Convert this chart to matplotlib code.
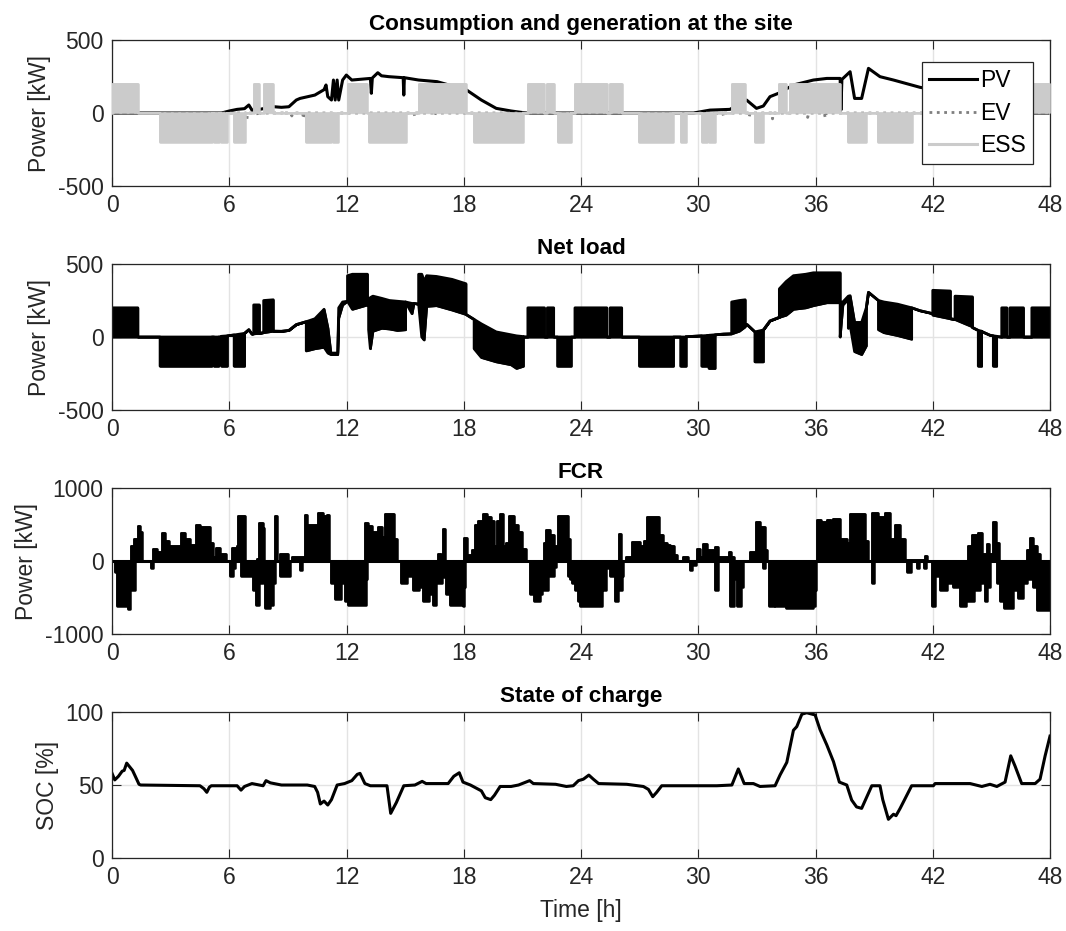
import matplotlib

matplotlib.use("Agg")
import matplotlib.pyplot as plt
from matplotlib.lines import Line2D
import numpy as np

plt.rcParams["font.family"] = ["Liberation Sans", "DejaVu Sans"]
plt.rcParams["axes.unicode_minus"] = False

# ── data (time in hours) ────────────────────────────────────────────
pv_t = [0, 5.6, 6.0, 6.4, 6.78, 7.0, 7.16, 7.54, 8.3, 8.67, 9.05, 9.43, 9.62,
        10.38, 10.85, 10.95, 11.04, 11.23, 11.33, 11.42, 11.52, 11.6, 11.8,
        11.99, 12.27, 13.22, 13.27, 13.32, 13.6, 13.79, 14.17, 14.9, 14.93,
        14.96, 15.69, 16.63, 18.14, 18.9, 19.66, 20.42, 20.8, 21.2, 29.75,
        30.6, 31.62, 32.47, 32.98, 33.33, 33.67, 34.1, 34.87, 35.89, 36.58,
        37.26, 37.3, 37.35, 37.77, 38.0, 38.36, 38.71, 39.3, 39.99, 41.35,
        42.5, 43.5, 44.0, 44.5, 45.0, 45.5, 48.0]
pv_kw = [0, 0, 14, 25, 30, 55, 20, 25, 43, 39, 43, 89, 100,
         123, 160, 192, 112, 89, 226, 89, 226, 89, 226,
         260, 226, 237, 135, 240, 276, 255, 249, 242, 123,
         242, 226, 215, 158, 89, 32, 14, 7, 0, 0,
         20, 25, 89, 32, 48, 112, 135, 192, 226, 237,
         237, 20, 230, 283, 100, 100, 306, 249, 226, 176,
         150, 120, 65, 40, 10, 0, 0]

ev_t = [0, 6.85, 6.9, 6.95, 7.45, 7.5, 7.55, 8.75, 8.8, 8.85, 9.15, 9.2, 9.25,
        9.75, 9.8, 9.85, 11.45, 11.5, 11.55, 15.45, 15.5, 15.55, 16.45, 16.5,
        16.55, 30.85, 30.9, 30.95, 31.25, 31.3, 31.35, 32.55, 32.6, 32.65,
        33.75, 33.8, 33.85, 35.55, 35.6, 35.65, 36.45, 36.5, 36.55, 48]
ev_kw = [0, 0, -40, 0, 0, -25, 0, 0, -15, 0, 0, -20, 0,
         0, -40, 0, 0, -20, 0, 0, -25, 0, 0, -20,
         0, 0, -25, 0, 0, -25, 0, 0, -30, 0,
         0, -40, 0, 0, -30, 0, 0, -35, 0, 0]

# ESS operates in on/off blocks at +/-200 kW
ess_start = [0.0, 2.46, 5.22, 5.6, 6.25, 7.25, 7.76, 9.94, 11.33, 12.05, 13.13,
             15.69, 18.53, 21.28, 22.28, 22.8, 23.69, 25.49, 26.99, 29.1, 30.18,
             30.55, 31.71, 32.9, 34.15, 34.7, 37.68, 39.22, 42.0, 43.14, 44.33,
             45.1, 45.53, 45.95, 47.07]
ess_end = [1.32, 5.11, 5.46, 5.9, 6.78, 7.54, 8.25, 11.23, 11.55, 13.07, 15.02,
           18.11, 21.05, 22.13, 22.6, 23.5, 25.32, 26.08, 28.73, 29.38, 30.45,
           30.86, 32.4, 33.33, 34.5, 37.26, 38.6, 40.92, 42.9, 44.03, 44.5,
           45.27, 45.79, 46.64, 48.0]
ess_kw = [200, -200, -200, -200, -200, 200, 200, -200, -200, 200, -200,
          200, -200, 200, 200, -200, 200, 200, -200, -200, -200,
          -200, 200, -200, 200, 200, -200, -200, 200, 200, -200,
          -200, 200, 200, 200]

# net load: envelope of the fast switching signal (lower, upper)
net_t = [0.0, 1.32, 1.32, 2.46, 2.46, 5.11, 5.11, 5.22, 5.22, 5.46, 5.46,
         5.6, 5.6, 5.9, 5.9, 6.25, 6.25, 6.78, 6.78, 7.0, 7.16, 7.25, 7.25,
         7.54, 7.54, 7.76, 7.76, 8.25, 8.25, 8.67, 9.05, 9.43, 9.94, 9.94,
         10.38, 10.85, 11.05, 11.2, 11.55, 11.6, 11.8, 12.05, 12.05, 12.3,
         13.07, 13.07, 13.13, 13.13, 13.22, 13.35, 13.8, 14.2, 14.6, 15.02,
         15.02, 15.35, 15.45, 15.69, 15.69, 15.85, 15.97, 16.1, 16.6, 17.4,
         18.11, 18.11, 18.53, 18.53, 18.9, 19.66, 20.42, 20.7, 21.05, 21.05,
         21.28, 21.28, 22.13, 22.13, 22.28, 22.28, 22.6, 22.6, 22.8, 22.8,
         23.5, 23.5, 23.69, 23.69, 25.32, 25.32, 25.49, 25.49, 26.08, 26.08,
         26.99, 26.99, 28.73, 28.73, 29.1, 29.1, 29.38, 29.38, 30.18, 30.18,
         30.45, 30.45, 30.55, 30.55, 30.86, 30.86, 31.3, 31.71, 31.71, 32.1,
         32.4, 32.4, 32.5, 32.9, 32.9, 33.33, 33.33, 33.67, 34.15, 34.15,
         34.5, 34.87, 35.5, 35.89, 36.58, 37.26, 37.26, 37.4, 37.68, 37.68,
         37.77, 38.0, 38.36, 38.6, 38.6, 38.71, 39.22, 39.22, 39.5, 40.2,
         40.92, 40.92, 41.35, 42.0, 42.0, 42.9, 42.9, 43.14, 43.14, 44.03,
         44.03, 44.33, 44.33, 44.5, 44.5, 44.93, 45.1, 45.1, 45.27, 45.27,
         45.53, 45.53, 45.79, 45.79, 45.95, 45.95, 46.64, 46.64, 47.07, 47.07,
         48.0]
net_lo = [0, 0, 0, 0, -200, -200, 0, 0, -200, -200, 0,
          0, -200, -200, 8, 14, -200, -200, 25, 50, 20, 22, 22,
          25, 25, 30, 30, 40, 40, 39, 45, 85, 105, -95,
          -80, -70, -110, -120, -120, 130, 220, 245, 245, 190,
          220, 240, 250, 50, -80, 40, 60, 55, 45, 50,
          240, 160, 230, 225, 225, 0, -20, 210, 215, 185,
          155, 155, 120, -80, -140, -170, -190, -215, -200, 0,
          0, 0, 0, 0, 0, 0, 0, 0, 0, -200,
          -200, 0, 0, 0, 0, 0, 0, 0, 0, 0,
          0, -200, -200, 0, 0, -200, -200, 2, 8, -200,
          -200, 10, 10, -215, -215, 15, 20, 22, 22, 40,
          70, 80, 85, 35, -170, -170, 48, 110, 135, 135,
          150, 190, 200, 215, 235, 235, 0, 220, 260, 60,
          83, -100, -120, -60, 200, 306, 250, 50, 30, 10,
          -15, 200, 180, 160, 150, 125, 125, 120, 120, 70,
          65, 45, -200, -200, 38, 12, 8, -200, -200, 3,
          0, 0, 0, 0, 0, 0, 0, 0, 0, 0,
          0]
net_hi = [200, 200, 0, 0, 0, 0, 0, 0, 0, 0, 0,
          0, 5, 8, 8, 14, 14, 25, 25, 50, 20, 22, 220,
          220, 25, 30, 250, 255, 40, 39, 45, 85, 105, 105,
          125, 190, 60, -110, -110, 200, 240, 245, 420, 430,
          430, 240, 250, 250, 270, 280, 265, 250, 245, 240,
          240, 230, 230, 225, 430, 430, 380, 420, 415, 395,
          365, 155, 120, 120, 90, 35, 15, 8, 3, 0,
          0, 200, 200, 0, 0, 200, 200, 0, 0, 0,
          0, 0, 0, 200, 200, 0, 0, 200, 200, 0,
          0, 0, 0, 0, 0, 0, 0, 2, 8, 8,
          10, 10, 10, 12, 15, 15, 20, 22, 240, 250,
          255, 80, 85, 35, 35, 48, 48, 110, 135, 330,
          380, 420, 430, 440, 440, 440, 240, 240, 280, 280,
          283, 100, 100, 200, 200, 306, 250, 250, 240, 225,
          200, 200, 180, 160, 320, 315, 125, 120, 280, 275,
          65, 45, 45, 40, 38, 12, 8, 8, 5, 3,
          0, 200, 200, 0, 0, 200, 200, 0, 0, 200,
          200]

# FCR: upper (positive) and lower (negative) envelopes
fcr_up_t = [0.0, 0.9, 0.99, 1.1, 1.32, 1.45, 1.55, 2.0, 2.1, 2.3, 2.55, 2.7,
            2.9, 3.1, 3.3, 3.55, 3.75, 4.0, 4.31, 4.5, 4.9, 5.0, 5.15, 5.3,
            5.5, 5.7, 5.85, 6.1, 6.15, 6.4, 6.45, 6.7, 6.8, 7.4, 7.5, 7.7,
            7.8, 8.2, 8.35, 8.45, 8.6, 8.9, 9.0, 9.2, 9.6, 9.8, 9.85, 10.0,
            10.4, 10.55, 10.8, 11.0, 11.1, 12.9, 12.95, 13.1, 13.3, 13.5,
            13.6, 13.8, 13.95, 14.3, 14.45, 14.6, 16.6, 16.7, 16.85, 16.95,
            17.05, 18.0, 18.02, 18.15, 18.4, 18.55, 18.75, 19.0, 19.2, 19.4,
            19.55, 19.7, 19.86, 20.0, 20.15, 20.3, 20.55, 20.8, 21.0, 21.2,
            22.0, 22.1, 22.22, 22.4, 22.6, 22.8, 23.15, 23.35, 23.45, 25.9,
            25.95, 26.05, 26.3, 26.5, 26.6, 26.8, 27.0, 27.2, 27.36, 27.87,
            28.0, 28.2, 28.4, 28.55, 28.75, 28.9, 29.2, 29.4, 29.5, 29.85,
            29.92, 30.1, 30.26, 30.45, 30.7, 30.86, 31.0, 31.4, 31.55, 31.7,
            31.85, 32.5, 32.65, 32.96, 33.16, 33.4, 33.5, 36.0, 36.06, 36.3,
            36.57, 36.8, 36.9, 37.1, 37.26, 37.6, 37.77, 38.36, 38.55, 38.7,
            38.85, 38.9, 39.2, 39.56, 39.8, 40.07, 40.3, 40.6, 41.5, 41.6,
            41.7, 43.7, 43.8, 44.0, 44.3, 44.5, 44.75, 44.9, 45.1, 45.25,
            45.4, 46.7, 46.8, 47.0, 47.15, 47.35, 47.5, 48.0]
fcr_up = [0, 0, 210, 300, 480, 400, 0, 0, 165, 120, 380, 280,
          200, 210, 200, 380, 300, 220, 500, 460, 460, 250, 60, 180,
          90, 90, 0, 0, 180, 200, 620, 620, 0, 30, 520, 450,
          0, 0, 620, 0, 100, 100, 0, 50, 50, 0, 630, 500,
          500, 660, 620, 630, 0, 0, 520, 480, 400, 400,
          460, 330, 650, 650, 300, 0, 0, 100, 0, 440,
          0, 0, 320, 80, 150, 500, 550, 650, 600, 550,
          200, 550, 640, 200, 250, 620, 500, 400, 170, 0,
          0, 250, 420, 350, 200, 620, 620, 300, 0, 0,
          370, 0, 50, 50, 260, 260, 200, 280, 600, 600,
          350, 250, 220, 200, 80, 0, 60, 60, 0, 0,
          170, 50, 230, 150, 150, 190, 50, 60, 130, 50,
          0, 0, 130, 530, 460, 150, 0, 0, 560, 540,
          560, 300, 580, 580, 300, 250, 640, 640, 280, 0,
          0, 660, 600, 660, 300, 500, 300, 20, 20, 70,
          0, 0, 200, 350, 380, 100, 230, 100, 540, 250,
          0, 0, 150, 320, 200, 100, 0, 0]
fcr_dn_t = [0.0, 0.05, 0.14, 0.24, 0.7, 0.8, 0.9, 1.1, 1.15, 1.9, 2.0, 2.1,
            5.95, 6.05, 6.2, 6.3, 6.5, 6.6, 7.0, 7.2, 7.35, 7.5, 7.7, 7.85,
            8.1, 8.25, 8.35, 8.6, 9.0, 9.1, 9.5, 9.6, 9.7, 11.1, 11.2, 11.4,
            11.7, 11.9, 12.1, 12.9, 13.0, 13.05, 14.7, 14.8, 15.1, 15.4, 15.7,
            15.9, 16.2, 16.4, 16.6, 16.9, 17.1, 17.3, 17.95, 18.0, 18.05, 21.3,
            21.4, 21.6, 21.9, 22.0, 22.3, 22.6, 22.7, 23.3, 23.35, 23.44,
            23.53, 23.7, 23.87, 23.95, 24.97, 25.05, 25.14, 25.3, 25.4, 25.5,
            25.7, 25.74, 25.91, 26.08, 26.15, 29.5, 29.58, 29.7, 29.84, 29.9,
            30.8, 30.87, 30.95, 31.0, 31.6, 31.63, 31.8, 31.85, 31.97, 32.14,
            32.2, 32.3, 33.25, 33.33, 33.4, 33.6, 33.85, 33.9, 33.95, 34.5,
            35.2, 35.89, 35.98, 36.02, 38.85, 38.88, 38.96, 39.0, 40.6, 40.67,
            40.84, 40.9, 41.2, 41.3, 41.55, 41.65, 41.9, 41.95, 42.04, 42.1,
            42.38, 42.72, 43.06, 43.3, 43.4, 43.57, 43.7, 43.9, 44.1, 44.42,
            44.55, 44.68, 44.8, 44.95, 45.2, 45.28, 45.45, 45.62, 45.96, 46.13,
            46.38, 46.6, 46.8, 47.15, 47.32, 47.9, 48.0]
fcr_dn = [0, 0, -150, -620, -620, -660, -400, -400, 0, 0, -100, 0,
          0, -200, -100, 0, 0, -200, -200, -400, -600, -300, -200, -650,
          -600, -300, 0, -200, -200, 0, 0, -120, 0, 0, -300, -520,
          -300, -550, -600, -600, -250, 0, 0, -300, -200, -400, -350,
          -550, -450, -600, -300, -220, -450, -600, -620, -350, 0, 0,
          -450, -550, -450, -400, -200, -80, 0, 0, -200, -250,
          -300, -400, -550, -620, -620, -300, -400, -100, 0, -200,
          -200, -550, -400, -200, 0, 0, -120, -50, -50, 0,
          0, -400, -400, 0, 0, -620, -620, -250, -620, -620,
          -350, 0, 0, -100, 0, -620, -620, -300, -620, -640,
          -640, -620, -400, 0, 0, -300, -300, 0, 0, -150,
          -150, 0, -100, 0, -100, 0, 0, -620, -620, -200,
          -400, -300, -350, -200, -620, -620, -550, -550, -400, -300,
          -150, -550, -350, 0, 0, -300, -550, -640, -640, -400,
          -500, -300, -250, -350, -670, -670, -600]

soc_t = [0, 0.14, 0.33, 0.52, 0.62, 0.75, 0.9, 1.05, 1.19, 1.38, 1.47, 4.5,
         4.7, 4.85, 4.98, 5.08, 6.4, 6.6, 6.78, 7.16, 7.73, 7.88, 8.1, 8.67,
         9.99, 10.37, 10.52, 10.66, 10.85, 11.04, 11.23, 11.52, 11.9, 12.27,
         12.55, 12.69, 12.94, 13.22, 14.07, 14.26, 14.55, 14.93, 15.5, 15.87,
         16.07, 17.2, 17.49, 17.77, 17.96, 18.34, 18.9, 19.1, 19.38, 19.57,
         19.86, 20.42, 20.8, 21.37, 21.56, 22.7, 23.25, 23.6, 23.87, 24.12,
         24.4, 24.63, 24.9, 26.34, 27.19, 27.45, 27.67, 27.87, 28.13, 30.95,
         31.72, 32.05, 32.35, 32.82, 33.16, 33.93, 34.19, 34.53, 34.87, 35.04,
         35.3, 35.55, 35.98, 36.23, 36.58, 36.92, 37.22, 37.6, 37.85, 38.1,
         38.36, 38.88, 39.3, 39.44, 39.73, 39.99, 40.12, 40.33, 40.92, 42.03,
         42.12, 43.91, 44.51, 44.93, 45.28, 45.7, 45.99, 46.21, 46.55, 47.24,
         47.49, 47.75, 48.0]
soc_pct = [58, 53.5, 56, 59.5, 60, 65, 62.5, 60, 56, 50.5, 50, 49.5,
           47.5, 45, 48.5, 49.5, 49.5, 46.5, 49, 51, 49.5, 53, 51.5, 50,
           50, 49, 45, 37, 39, 36.3, 40, 50, 51, 53,
           57.3, 58, 51, 49.5, 49.5, 30.6, 38, 49.5, 50, 52.5,
           51, 51, 56, 58.4, 52, 50, 46, 41.3, 40, 43,
           49, 49, 50, 53, 51, 50.5, 49, 49.5, 53, 54,
           56.8, 54, 51, 50.5, 49, 47, 42, 45, 49.5, 49.5,
           50, 61, 51, 51, 49, 49.5, 57, 65.5, 87.5, 90,
           98.5, 99.5, 98, 88, 77.4, 66, 52, 50, 39.7, 35,
           34, 49.5, 49.5, 40, 26.5, 30, 29, 34, 49.5, 49.5,
           51, 51, 49, 50.5, 49, 52, 70, 63, 51, 51,
           54, 70, 83.5]

time_ticks = [0, 6, 12, 18, 24, 30, 36, 42, 48]

TXT = "#262626"
GRID = "#e3e3e3"
ESS_C = "#cbcbcb"
EV_C = "#7f7f7f"
FS = 16.5


def style_axis(ax, title, ylabel, ylim, yticks):
    ax.set_xlim(0, 48)
    ax.set_ylim(*ylim)
    ax.set_xticks(time_ticks)
    ax.set_yticks(yticks)
    ax.grid(True, color=GRID, lw=1.0, zorder=0)
    ax.set_axisbelow(True)
    ax.tick_params(direction="in", length=6.5, width=0.8, top=True,
                   right=True, labelsize=FS, colors=TXT)
    ax.tick_params(axis="x", pad=6)
    ax.tick_params(axis="y", pad=6)
    for s in ax.spines.values():
        s.set_color(TXT)
        s.set_linewidth(0.9)
    ax.set_title(title, fontsize=16.2, fontweight="bold", color="black",
                 pad=7)
    ax.set_ylabel(ylabel, fontsize=FS, color=TXT, labelpad=5)


fig = plt.figure(figsize=(10.66, 9.31), dpi=100)
L, W, H = 0.1051, 0.8799, 0.1568
ax1 = fig.add_axes([L, 0.8002, W, H])
ax2 = fig.add_axes([L, 0.5596, W, H])
ax3 = fig.add_axes([L, 0.3190, W, H])
ax4 = fig.add_axes([L, 0.0784, W, H])

# ── panel 1: PV / EV / ESS ──────────────────────────────────────────
ess_t, ess_v = [], []
for s, e, p in zip(ess_start, ess_end, ess_kw):
    ess_t += [s, s, e, e]
    ess_v += [0, p, p, 0]
ax1.plot(pv_t, pv_kw, color="black", lw=2.2, zorder=2)
ax1.plot(ev_t, ev_kw, color=EV_C, lw=2.0, ls=":", zorder=2.5)
ax1.fill_between(ess_t, 0, ess_v, color=ESS_C, lw=1.2, zorder=3)
ax1.plot(ess_t, ess_v, color=ESS_C, lw=1.8, zorder=3)
style_axis(ax1, "Consumption and generation at the site", "Power [kW]",
           (-500, 500), [-500, 0, 500])
handles = [Line2D([], [], color="black", lw=2.2),
           Line2D([], [], color=EV_C, lw=2.0, ls=":"),
           Line2D([], [], color=ESS_C, lw=2.2)]
leg = ax1.legend(handles, ["PV", "EV", "ESS"], loc="upper right",
                 bbox_to_anchor=(0.982, 0.849), borderaxespad=0,
                 fontsize=FS, handlelength=2.1, handletextpad=0.15,
                 labelspacing=0.42, borderpad=0.3, fancybox=False,
                 framealpha=1, edgecolor=TXT)
leg.get_frame().set_linewidth(0.9)
leg.set_zorder(10)

# ── panel 2: net load ───────────────────────────────────────────────
ax2.fill_between(net_t, net_lo, net_hi, color="black", lw=1.2, zorder=2)
ax2.plot(net_t, net_lo, color="black", lw=2.0, zorder=2)
ax2.plot(net_t, net_hi, color="black", lw=2.0, zorder=2)
style_axis(ax2, "Net load", "Power [kW]", (-500, 500), [-500, 0, 500])

# ── panel 3: FCR ────────────────────────────────────────────────────
ax3.fill_between(fcr_up_t, 0, fcr_up, step="post", color="black", lw=1.2,
                 zorder=2)
ax3.fill_between(fcr_dn_t, fcr_dn, 0, step="post", color="black", lw=1.2,
                 zorder=2)
ax3.plot(fcr_up_t, fcr_up, color="black", lw=1.8, drawstyle="steps-post",
         zorder=2)
ax3.plot(fcr_dn_t, fcr_dn, color="black", lw=1.8, drawstyle="steps-post",
         zorder=2)
ax3.axhline(0, color="black", lw=2.2, zorder=2)
style_axis(ax3, "FCR", "Power [kW]", (-1000, 1000), [-1000, 0, 1000])

# ── panel 4: state of charge ────────────────────────────────────────
ax4.plot(soc_t, soc_pct, color="black", lw=2.2, zorder=2)
style_axis(ax4, "State of charge", "SOC [%]", (0, 100), [0, 50, 100])
ax4.set_xlabel("Time [h]", fontsize=FS, color=TXT, labelpad=7)

fig.savefig("out.png", dpi=100)
plt.close(fig)
